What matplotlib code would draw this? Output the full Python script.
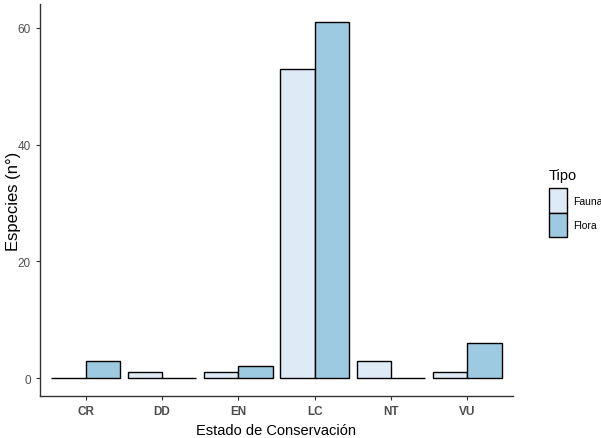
import numpy as np
import matplotlib
matplotlib.use("Agg")
import matplotlib.pyplot as plt
from matplotlib.patches import Rectangle

plt.rcParams['font.family'] = ['Liberation Sans', 'DejaVu Sans']

categorias = ["CR", "DD", "EN", "LC", "NT", "VU"]
fauna = [0, 1, 1, 53, 3, 1]
flora = [3, 0, 2, 61, 0, 6]
tipos = ["Fauna", "Flora"]
col_fauna = "#DEEBF7"
col_flora = "#9ECAE1"

W, H = 601, 439
fig = plt.figure(figsize=(W/100, H/100), dpi=100)
ax = fig.add_axes([40/W, 42/H, 473/W, 392/H])

x = np.arange(1, len(categorias) + 1)
w = 0.45
ax.bar(x - w/2, fauna, width=w, color=col_fauna, edgecolor="black", linewidth=1.0)
ax.bar(x + w/2, flora, width=w, color=col_flora, edgecolor="black", linewidth=1.0)

ax.set_xlim(0.4, 6.6)
ax.set_ylim(-3.05, 64.05)
ax.set_xticks(x)
ax.set_xticklabels(categorias, fontweight="bold")
ax.set_yticks([0, 20, 40, 60])
ax.tick_params(axis="both", colors="#333333", labelcolor="#4D4D4D", labelsize=8.5,
               length=3, width=0.8)
for s in ["top", "right"]:
    ax.spines[s].set_visible(False)
for s in ["left", "bottom"]:
    ax.spines[s].set_linewidth(1.0)
    ax.spines[s].set_color("#333333")

ax.set_xlabel("Estado de Conservación", fontsize=10.5, labelpad=4)
ax.set_ylabel("Especies (n°)", fontsize=12)
ax.yaxis.set_label_coords(-19/473, 0.5)

# legend drawn by hand (ggplot style keys)
fig.text(549/W, 1 - 176/H, "Tipo", fontsize=10.5, va="center", ha="left")
for i, (lab, col) in enumerate(zip(tipos, [col_fauna, col_flora])):
    y0 = 189 + i * 24.5
    fig.patches.append(Rectangle((549/W, 1 - (y0 + 24.5)/H), 18/W, 24.5/H,
                                 transform=fig.transFigure, facecolor=col,
                                 edgecolor="black", linewidth=1.0))
    fig.text(573/W, 1 - (y0 + 13)/H, lab, fontsize=7.5, va="center", ha="left")

fig.savefig("out.png", dpi=100)
